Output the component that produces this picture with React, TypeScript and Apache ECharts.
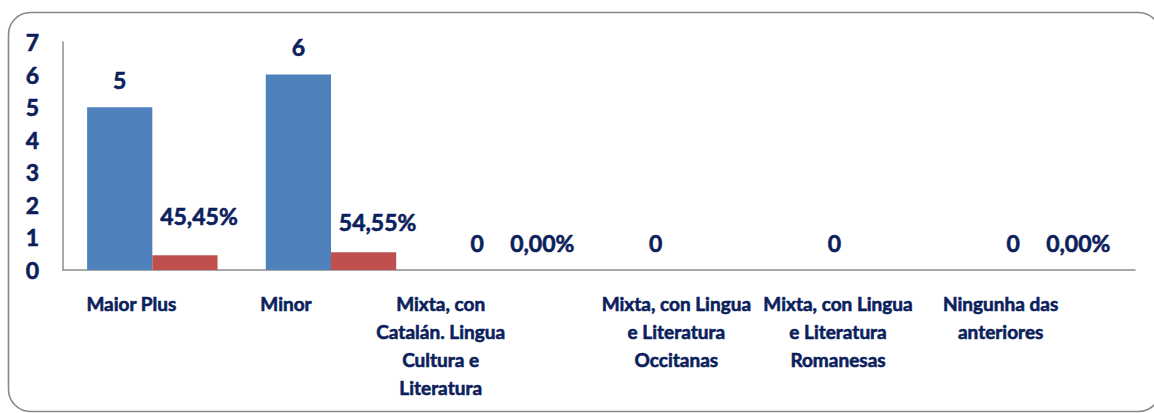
import React, { useEffect, useRef } from "react";
import * as echarts from "echarts";

const categories = [
  "Maior Plus",
  "Minor",
  "Mixta, con\nCatalán. Lingua\nCultura e\nLiteratura",
  "Mixta, con Lingua\ne Literatura\nOccitanas",
  "Mixta, con Lingua\ne Literatura\nRomanesas",
  "Ningunha das\nanteriores",
];
const counts = [5, 6, 0, 0, 0, 0];
const shares: (number | null)[] = [0.4545, 0.5455, 0, null, null, 0];

// styling: label nudges (not data)
const catLabelShiftLeft = [21, 45, 69, 12, 29, 45];
const shareLabelOffsets = [
  [14, -12],
  [14, -3],
  [0, 0],
  [0, 0],
  [0, 0],
  [0, 0],
];

const NAVY = "#0C1F5C";
const FONT = "Lato";
const WEIGHT = "bold";
const heavy = { textBorderColor: NAVY, textBorderWidth: 0.6 };

export default function App() {
  const ref = useRef<HTMLDivElement>(null);
  useEffect(() => {
    if (!ref.current) return;
    const chart = echarts.init(ref.current, undefined, { renderer: "svg" });
    chart.setOption({
      animation: false,
      backgroundColor: "#ffffff",
      graphic: [
        {
          type: "rect",
          shape: { x: 8.5, y: 12.5, width: 1152, height: 399, r: 22 },
          style: { fill: "none", stroke: "#878787", lineWidth: 1.6 },
          silent: true,
          z: 0,
        },
      ],
      grid: { left: 63, right: 19, top: 42, bottom: 143, containLabel: false },
      xAxis: {
        type: "category",
        data: categories.map((c, i) => ({
          value: c,
          textStyle: { padding: [0, catLabelShiftLeft[i] * 2, 0, 0] },
        })),
        axisLine: { show: true, lineStyle: { color: "#8c8c8c", width: 1.5 } },
        axisTick: { show: false },
        axisLabel: {
          interval: 0,
          margin: 19,
          color: NAVY,
          fontFamily: FONT,
          fontWeight: WEIGHT,
          fontSize: 19,
          lineHeight: 28,
          align: "center",
          ...heavy,
        },
      },
      yAxis: {
        type: "value",
        min: 0,
        max: 7,
        interval: 1,
        splitLine: { show: false },
        axisLine: { show: true, lineStyle: { color: "#8c8c8c", width: 1.5 } },
        axisTick: { show: false },
        axisLabel: {
          margin: 24,
          color: NAVY,
          fontFamily: FONT,
          fontWeight: WEIGHT,
          fontSize: 23,
          ...heavy,
        },
      },
      series: [
        {
          type: "bar",
          data: counts,
          barGap: "0%",
          barCategoryGap: "27%",
          itemStyle: { color: "#4F81BD" },
          label: {
            show: true,
            position: "top",
            distance: 16,
            color: NAVY,
            fontFamily: FONT,
            fontWeight: WEIGHT,
            fontSize: 23,
            ...heavy,
          },
        },
        {
          type: "bar",
          data: shares.map((v, i) => ({
            value: v,
            label: { offset: shareLabelOffsets[i] },
          })),
          itemStyle: { color: "#C0504D" },
          label: {
            show: true,
            position: "top",
            distance: 16,
            color: NAVY,
            fontFamily: FONT,
            fontWeight: WEIGHT,
            fontSize: 23,
            ...heavy,
            formatter: (p: any) =>
              p.value == null
                ? ""
                : (p.value * 100).toFixed(2).replace(".", ",") + "%",
          },
        },
      ],
    });
    return () => chart.dispose();
  }, []);
  return (
    <div
      ref={ref}
      style={{ position: "absolute", left: 0, top: 0, width: 1154, height: 413 }}
    />
  );
}
